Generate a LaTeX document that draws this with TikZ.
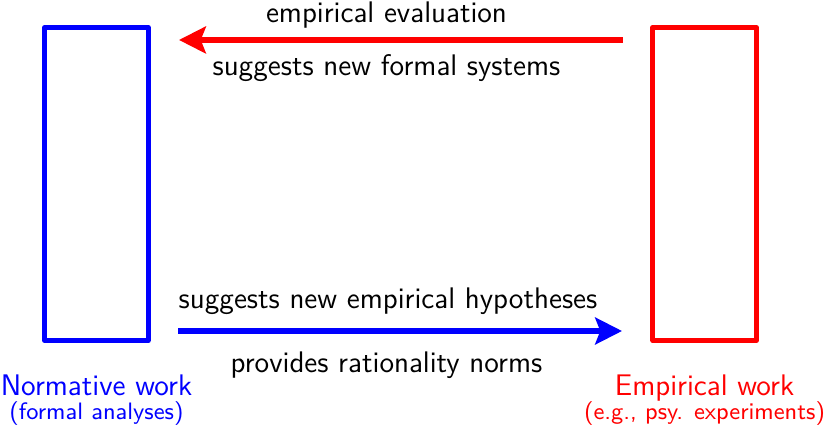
\documentclass[tikz,border=0pt]{standalone}
\usepackage{tikz}
\usetikzlibrary{positioning,arrows.meta}
\renewcommand{\familydefault}{\sfdefault}

\tikzset{
  workbox/.style={draw, line width=2pt, line join=round, minimum width=1.42cm, minimum height=4.305cm, inner sep=0pt},
  flow/.style={line width=2pt, -{Stealth[length=10.5pt, width=10.5pt, inset=2pt]}, shorten >=0.39cm, shorten <=0.38cm},
  txt/.style={anchor=base, inner sep=0pt, font=\fontsize{11.65}{13}\selectfont},
  subtxt/.style={anchor=base, inner sep=0pt, font=\fontsize{9.3}{11}\selectfont}
}

\begin{document}
\begin{tikzpicture}
    \useasboundingbox (0,0) rectangle (11.334,5.846);
    % the two boxes
    \node[workbox, blue] (nw) at (1.327,3.315) {};
    \node[workbox, red] (ew) at (9.691,3.315) {};
    % arrows
    \draw[flow, red] ([yshift=1.981cm]ew.west) -- ([yshift=1.981cm]nw.east);
    \draw[flow, blue] ([yshift=-2.022cm]nw.east) -- ([yshift=-2.022cm]ew.west);
    \node[txt] (evallab) at (5.316,5.543) {empirical evaluation};
    \node[txt] (formallab) at (5.316,4.814) {suggests new formal systems};
    \node[txt] (hyplab) at (5.337,1.609) {suggests new empirical hypotheses};
    \node[txt] (normlab) at (5.316,0.729) {provides rationality norms};
    % captions
    \node[txt, blue] (nwtitle) at ([yshift=-0.722cm]nw.south) {Normative work};
    \node[subtxt, blue] (nwsub) at ([yshift=-1.05cm]nw.south) {(formal analyses)};
    \node[txt, red] (ewtitle) at ([yshift=-0.722cm]ew.south) {Empirical work};
    \node[subtxt, red] (ewsub) at ([yshift=-1.05cm]ew.south) {(e.g., psy. experiments)};
\end{tikzpicture}
\end{document}
